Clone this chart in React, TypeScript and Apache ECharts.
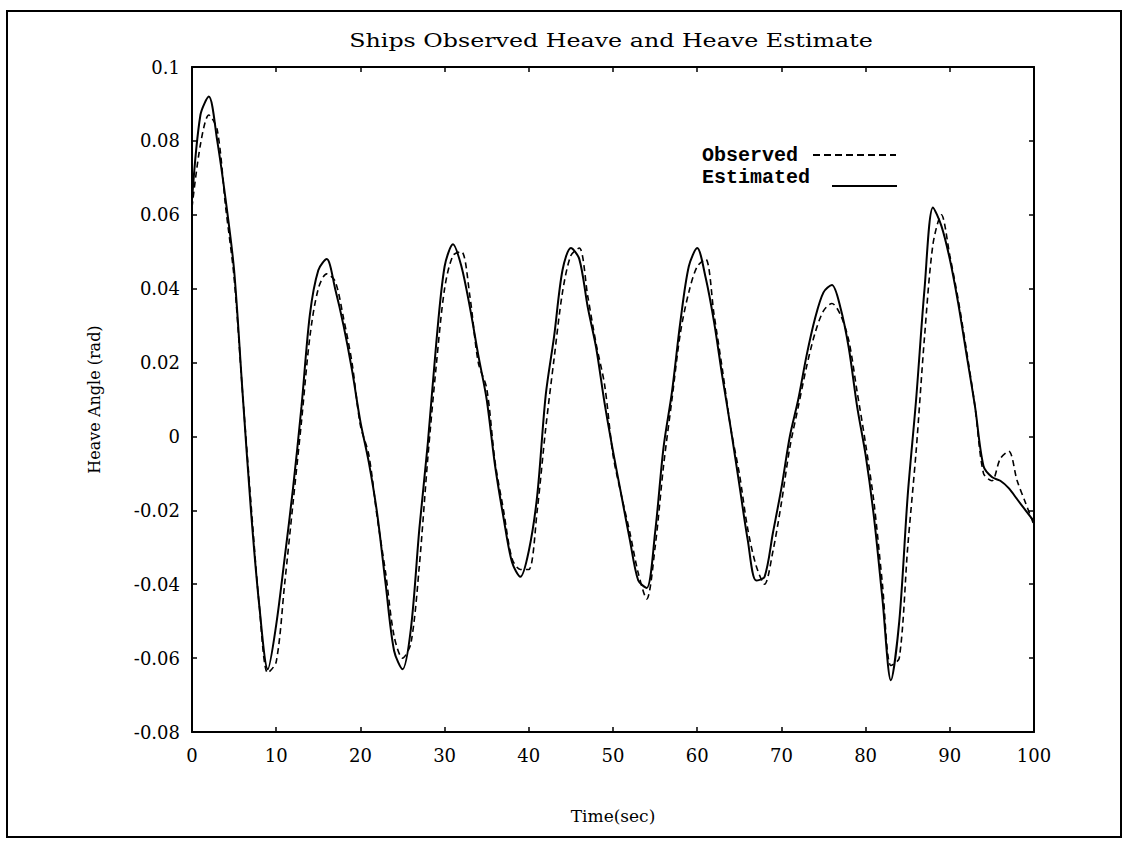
import React, { useEffect, useRef } from "react";
import * as echarts from "echarts";

const timeSec: number[] = Array.from({ length: 101 }, (_, i) => i);

const estimated: number[] = [
  0.064, 0.087, 0.092, 0.080, 0.064, 0.045, 0.012, -0.020, -0.046, -0.063,
  -0.051, -0.033, -0.014, 0.008, 0.033, 0.045, 0.048, 0.040, 0.030, 0.018,
  0.004, -0.007, -0.021, -0.040, -0.058, -0.063, -0.052, -0.025, -0.002, 0.025,
  0.046, 0.052, 0.046, 0.035, 0.022, 0.010, -0.008, -0.022, -0.034, -0.038,
  -0.031, -0.016, 0.011, 0.027, 0.045, 0.051, 0.048, 0.035, 0.024, 0.009,
  -0.004, -0.016, -0.028, -0.039, -0.041, -0.026, -0.003, 0.012, 0.031, 0.046,
  0.051, 0.043, 0.031, 0.016, 0.002, -0.013, -0.028, -0.039, -0.038, -0.026,
  -0.014, 0.000, 0.010, 0.022, 0.032, 0.039, 0.041, 0.035, 0.024, 0.008,
  -0.005, -0.022, -0.044, -0.066, -0.050, -0.016, 0.010, 0.040, 0.062, 0.057,
  0.048, 0.036, 0.022, 0.008, -0.008, -0.011, -0.012, -0.014, -0.017, -0.020,
  -0.023,
];

const observed: number[] = [
  0.062, 0.079, 0.087, 0.083, 0.062, 0.043, 0.012, -0.018, -0.046, -0.064,
  -0.061, -0.040, -0.018, 0.004, 0.027, 0.040, 0.044, 0.042, 0.032, 0.020,
  0.003, -0.005, -0.022, -0.037, -0.054, -0.060, -0.056, -0.035, -0.006, 0.019,
  0.040, 0.049, 0.050, 0.038, 0.020, 0.013, -0.007, -0.020, -0.033, -0.036,
  -0.036, -0.020, 0.002, 0.021, 0.039, 0.049, 0.051, 0.038, 0.025, 0.014,
  -0.005, -0.016, -0.026, -0.037, -0.044, -0.030, -0.008, 0.010, 0.028, 0.039,
  0.046, 0.048, 0.033, 0.018, 0.002, -0.010, -0.025, -0.035, -0.040, -0.031,
  -0.018, -0.003, 0.008, 0.019, 0.028, 0.034, 0.036, 0.033, 0.026, 0.012,
  -0.002, -0.018, -0.040, -0.062, -0.060, -0.030, -0.004, 0.027, 0.052, 0.060,
  0.049, 0.037, 0.023, 0.008, -0.010, -0.012, -0.006, -0.004, -0.012, -0.018,
  -0.024,
];

const titleText = "Ships Observed Heave and Heave Estimate";
const xName = "Time(sec)";
const yName = "Heave Angle (rad)";
const legendNames = ["Observed", "Estimated"];

export default function App() {
  const ref = useRef<HTMLDivElement>(null);
  useEffect(() => {
    if (!ref.current) return;
    const chart = echarts.init(ref.current, null, { renderer: "svg" });
    const axisLine = { show: true, onZero: false, lineStyle: { color: "#000", width: 2 } };
    const tick = { show: true, inside: true, length: 5, lineStyle: { color: "#000", width: 1.5 } };
    const labelFont = { color: "#000", fontFamily: "DejaVu Serif", fontSize: 18 };
    const fmt = (v: number) => {
      const r = Math.round(v * 100) / 100;
      return r === 0 ? "0" : String(r);
    };
    chart.setOption({
      animation: false,
      backgroundColor: "#fff",
      grid: { left: 192, top: 67, right: 95, bottom: 110 },
      xAxis: [
        {
          type: "value", min: 0, max: 100, interval: 10, position: "bottom",
          axisLine, axisTick: tick, splitLine: { show: false },
          axisLabel: { ...labelFont, margin: 14 },
          name: xName, nameLocation: "middle", nameGap: 75,
          nameTextStyle: { color: "#000", fontFamily: "DejaVu Serif", fontSize: 17 },
        },
        {
          type: "value", min: 0, max: 100, interval: 10, position: "top",
          axisLine, axisTick: tick, splitLine: { show: false }, axisLabel: { show: false },
        },
      ],
      yAxis: [
        {
          type: "value", min: -0.08, max: 0.1, interval: 0.02, position: "left",
          axisLine, axisTick: tick, splitLine: { show: false },
          axisLabel: { ...labelFont, margin: 12, formatter: fmt },
          name: yName, nameLocation: "middle", nameGap: 90, nameRotate: 90,
          nameTextStyle: { color: "#000", fontFamily: "DejaVu Serif", fontSize: 16 },
        },
        {
          type: "value", min: -0.08, max: 0.1, interval: 0.02, position: "right",
          axisLine, axisTick: tick, splitLine: { show: false }, axisLabel: { show: false },
        },
      ],
      series: [
        {
          name: legendNames[0], type: "line", xAxisIndex: 0, yAxisIndex: 0,
          showSymbol: false, smooth: 0.3,
          data: timeSec.map((t, i) => [t, observed[i]]),
          lineStyle: { color: "#000", width: 1.6, type: [6, 4] },
        },
        {
          name: legendNames[1], type: "line", xAxisIndex: 0, yAxisIndex: 0,
          showSymbol: false, smooth: 0.3,
          data: timeSec.map((t, i) => [t, estimated[i]]),
          lineStyle: { color: "#000", width: 2 },
        },
      ],
      graphic: [
        {
          type: "rect", shape: { x: 7, y: 11, width: 1114, height: 826 },
          style: { fill: "none", stroke: "#000", lineWidth: 2 }, silent: true,
        },
        {
          type: "text", x: 611, y: 40, scaleX: 1.25,
          style: {
            text: titleText, fill: "#000", font: "19px 'DejaVu Serif'",
            textAlign: "center", textVerticalAlign: "middle",
          },
        },
        {
          type: "text", x: 702, y: 155,
          style: {
            text: legendNames[0], fill: "#000", font: "bold 20px 'Liberation Mono'",
            textAlign: "left", textVerticalAlign: "middle",
          },
        },
        {
          type: "text", x: 702, y: 177,
          style: {
            text: legendNames[1], fill: "#000", font: "bold 20px 'Liberation Mono'",
            textAlign: "left", textVerticalAlign: "middle",
          },
        },
        {
          type: "line", shape: { x1: 813, y1: 155, x2: 896, y2: 155 },
          style: { stroke: "#000", lineWidth: 2, lineDash: [7, 4] },
        },
        {
          type: "line", shape: { x1: 832, y1: 186, x2: 897, y2: 186 },
          style: { stroke: "#000", lineWidth: 2 },
        },
      ],
    });
    return () => chart.dispose();
  }, []);
  return (
    <div
      ref={ref}
      style={{ position: "fixed", left: 0, top: 0, width: 1129, height: 842 }}
    />
  );
}
